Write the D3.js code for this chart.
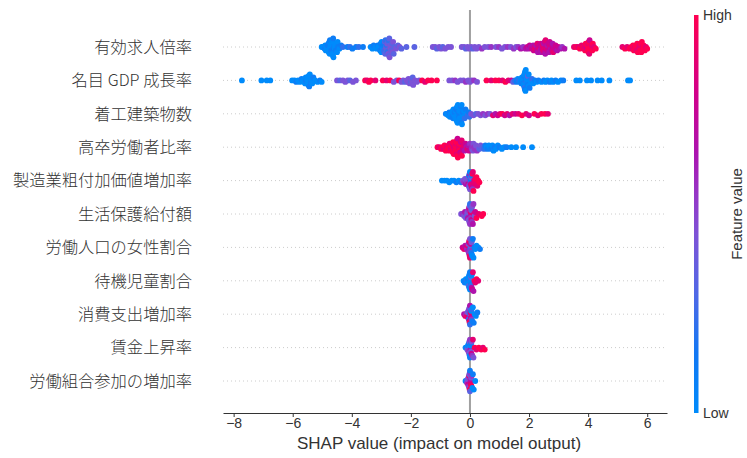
<!DOCTYPE html>
<html>
<head>
<meta charset="utf-8">
<script src="https://cdn.jsdelivr.net/npm/d3@7"></script>
<style>
  body { margin: 0; background: #fff; }
  text { font-family: "Liberation Sans", Arial, sans-serif; }
  .feat { font-family: "Noto Sans CJK JP", sans-serif; font-size: 16.3px; font-weight: 300; fill: #333; }
</style>
</head>
<body>
<script>
// features, top to bottom
var features = ['有効求人倍率', '名目 GDP 成長率', '着工建築物数', '高卒労働者比率',
  '製造業粗付加価値増加率', '生活保護給付額', '労働人口の女性割合', '待機児童割合',
  '消費支出増加率', '賃金上昇率', '労働組合参加の増加率'];

var xTicks = [-8, -6, -4, -2, 0, 2, 4, 6];

// [shap value, feature level 0 (low) .. 9 (high)]
var rowJobRatio = [
  [-5.02,0],[-4.96,0],[-4.92,1],[-4.9,0],[-4.88,0],[-4.85,0],[-4.84,0],[-4.82,1],[-4.8,0],[-4.79,1],
  [-4.78,0],[-4.76,0],[-4.75,0],[-4.74,1],[-4.73,0],[-4.72,0],[-4.71,0],[-4.7,1],[-4.69,0],[-4.68,1],
  [-4.67,0],[-4.66,0],[-4.65,0],[-4.64,0],[-4.63,1],[-4.62,0],[-4.6,1],[-4.58,0],[-4.57,0],[-4.54,1],
  [-4.52,0],[-4.5,0],[-4.48,0],[-4.46,1],[-4.42,0],[-4.36,1],[-4.3,2],
  [-4.15,1],[-4.06,2],[-3.98,1],[-3.86,1],[-3.76,2],[-3.62,1],
  [-3.36,0],[-3.3,0],[-3.26,1],[-3.2,0],[-3.16,0],[-3.12,1],[-3.1,0],[-3.08,0],[-3.05,0],[-3.04,1],
  [-3.02,1],[-3.0,0],[-2.99,0],[-2.97,1],[-2.95,0],[-2.93,1],[-2.92,2],[-2.9,1],[-2.89,2],[-2.88,3],
  [-2.87,3],[-2.86,2],[-2.84,3],[-2.83,4],[-2.82,2],[-2.81,3],[-2.8,4],[-2.79,2],[-2.78,3],[-2.77,4],
  [-2.76,2],[-2.74,3],[-2.73,3],[-2.72,4],[-2.7,3],[-2.69,4],[-2.67,4],[-2.66,3],[-2.64,3],[-2.62,4],
  [-2.6,4],[-2.58,3],[-2.55,3],[-2.5,4],[-2.44,3],[-2.38,4],[-2.32,3],[-2.15,3],[-1.88,3],
  [-1.26,4],[-1.18,4],[-1.12,3],[-1.04,4],[-0.98,4],[-0.92,3],[-0.84,4],[-0.74,4],[-0.64,4],
  [-0.28,4],[-0.2,4],[-0.14,3],[-0.08,4],[-0.02,4],[0.04,4],[0.1,3],[0.16,4],[0.22,4],[0.3,4],
  [0.4,5],[0.5,4],[0.62,4],[0.72,5],
  [0.88,4],[0.98,5],[1.08,4],[1.18,4],[1.28,5],[1.38,4],[1.48,5],[1.56,4],[1.64,5],[1.72,6],[1.8,5],[1.88,6],
  [1.94,7],[1.98,6],[2.02,7],[2.06,6],[2.1,7],[2.14,6],[2.16,7],[2.18,7],[2.2,8],[2.24,6],
  [2.26,7],[2.28,8],[2.3,6],[2.32,7],[2.35,8],[2.36,7],[2.38,6],[2.4,7],[2.42,6],[2.44,6],
  [2.45,7],[2.46,8],[2.48,8],[2.5,6],[2.52,7],[2.53,7],[2.55,6],[2.56,8],[2.58,7],[2.6,8],
  [2.62,6],[2.63,7],[2.65,7],[2.68,6],[2.7,7],[2.72,8],[2.74,6],[2.76,7],[2.78,7],[2.8,6],
  [2.82,8],[2.86,6],[2.88,7],[2.9,7],[2.95,6],[3.0,7],[3.06,6],[3.12,5],[3.2,6],
  [3.52,8],[3.6,9],[3.66,8],[3.72,9],[3.78,8],[3.84,9],[3.86,8],[3.88,8],[3.9,9],[3.92,9],
  [3.94,8],[3.95,7],[3.97,9],[3.98,9],[4.0,8],[4.01,9],[4.02,9],[4.04,8],[4.05,7],[4.08,9],
  [4.1,9],[4.12,8],[4.14,9],[4.16,9],[4.2,8],[4.26,9],
  [5.16,8],[5.25,9],[5.32,8],[5.4,9],[5.46,9],[5.5,8],[5.52,9],[5.55,9],[5.58,8],[5.6,9],
  [5.62,9],[5.64,8],[5.66,9],[5.68,9],[5.7,9],[5.72,8],[5.74,8],[5.76,9],[5.78,9],[5.8,9],
  [5.82,9],[5.84,8],[5.86,9],[5.88,9],[5.92,9],[5.96,8],[6.0,9]
];
var rowGdp = [
  [-7.72,0],[-7.06,0],[-6.88,0],[-6.76,0],
  [-6.02,0],[-5.94,0],[-5.88,1],[-5.82,0],[-5.76,0],[-5.7,1],[-5.66,0],[-5.62,0],[-5.6,0],[-5.58,0],
  [-5.56,0],[-5.55,1],[-5.53,1],[-5.52,0],[-5.5,0],[-5.49,0],[-5.47,0],[-5.46,0],[-5.44,1],[-5.42,0],
  [-5.4,0],[-5.38,1],[-5.36,0],[-5.34,0],[-5.3,1],[-5.24,0],[-5.16,0],[-5.08,1],[-5.02,0],
  [-4.5,4],[-4.4,3],[-4.3,4],[-4.22,4],[-4.14,4],[-4.06,3],[-3.96,4],[-3.86,4],
  [-3.55,9],[-3.48,8],[-3.42,9],[-3.36,9],[-3.2,8],
  [-2.95,9],[-2.82,8],[-2.7,9],[-2.58,4],[-2.48,4],[-2.4,9],[-2.32,4],[-2.26,4],[-2.2,3],[-2.14,4],
  [-2.1,4],[-2.08,4],[-2.04,4],[-2.02,4],[-2.0,3],[-1.98,4],[-1.96,4],[-1.94,3],[-1.92,4],[-1.86,4],
  [-1.8,4],[-1.72,4],[-1.62,9],[-1.52,8],[-1.42,9],[-1.3,9],[-1.12,9],
  [-0.7,4],[-0.6,4],[-0.5,5],[-0.42,4],[-0.32,4],[-0.22,4],[-0.14,5],[-0.06,4],[0.0,4],[0.06,4],[0.14,5],[0.24,4],
  [0.56,9],[0.72,8],[0.86,9],[0.98,9],[1.1,8],[1.2,9],[1.3,8],[1.4,7],
  [1.46,3],[1.52,2],[1.58,1],[1.62,0],[1.66,2],[1.7,0],[1.72,0],[1.74,1],[1.76,0],[1.77,1],
  [1.78,0],[1.79,0],[1.8,1],[1.81,0],[1.82,0],[1.83,1],[1.84,0],[1.84,0],[1.85,2],[1.86,0],
  [1.86,1],[1.87,0],[1.88,0],[1.89,0],[1.9,1],[1.91,2],[1.92,0],[1.93,0],[1.94,0],[1.95,1],
  [1.96,3],[1.98,0],[1.99,0],[2.02,1],[2.04,0],[2.06,0],[2.1,2],[2.14,0],[2.2,1],[2.26,0],[2.32,1],
  [2.42,0],[2.5,1],[2.56,0],[2.62,0],[2.7,1],[2.76,0],[2.82,0],[2.9,1],[2.98,0],[3.08,0],[3.16,1],
  [3.6,0],[3.72,0],[3.96,0],[4.1,0],[4.32,0],[4.46,0],[4.72,0],[5.35,0],[5.42,0]
];
var rowBuilding = [
  [-0.82,1],[-0.78,0],[-0.74,0],[-0.7,1],[-0.68,0],[-0.65,0],[-0.62,0],[-0.61,0],[-0.6,1],[-0.58,0],
  [-0.57,1],[-0.56,0],[-0.54,0],[-0.53,0],[-0.52,1],[-0.5,0],[-0.49,0],[-0.48,0],[-0.47,1],[-0.46,0],
  [-0.45,1],[-0.44,0],[-0.43,0],[-0.42,0],[-0.41,0],[-0.4,0],[-0.39,0],[-0.38,1],[-0.37,1],[-0.36,0],
  [-0.35,0],[-0.34,0],[-0.33,0],[-0.32,0],[-0.31,0],[-0.3,1],[-0.29,1],[-0.28,0],[-0.27,0],[-0.26,0],
  [-0.25,0],[-0.24,1],[-0.22,0],[-0.2,0],[-0.18,2],[-0.15,1],[-0.12,0],[-0.08,2],[-0.04,1],[-0.02,2],
  [0.04,4],[0.12,4],[0.2,3],[0.28,4],[0.36,4],[0.44,5],[0.52,4],[0.6,5],[0.68,4],
  [0.78,8],[0.86,6],[0.94,7],[1.02,8],[1.1,9],[1.18,7],[1.26,8],[1.34,6],[1.44,8],[1.54,7],
  [1.64,8],[1.76,9],[1.9,8],[2.0,7],[2.18,9],[2.3,8],[2.42,9],[2.54,9],[2.64,8]
];
var rowHighSchool = [
  [-1.1,9],[-1.04,8],[-0.98,9],[-0.94,9],[-0.9,8],[-0.86,9],[-0.82,9],[-0.78,8],[-0.75,9],[-0.72,9],
  [-0.7,9],[-0.69,8],[-0.66,9],[-0.65,8],[-0.63,9],[-0.61,9],[-0.6,8],[-0.58,9],[-0.57,9],[-0.55,9],
  [-0.53,7],[-0.52,8],[-0.5,9],[-0.49,9],[-0.48,8],[-0.47,9],[-0.46,9],[-0.45,8],[-0.44,9],[-0.43,9],
  [-0.42,7],[-0.41,9],[-0.4,9],[-0.38,8],[-0.37,8],[-0.36,9],[-0.35,9],[-0.33,7],[-0.31,7],[-0.3,8],
  [-0.28,8],[-0.27,9],[-0.25,9],[-0.24,7],[-0.21,8],[-0.18,6],[-0.15,7],[-0.12,6],[-0.09,8],[-0.06,6],[-0.03,7],
  [0.0,5],[0.04,6],[0.06,5],[0.08,5],[0.1,4],[0.12,4],[0.14,5],[0.16,5],[0.2,4],[0.24,5],[0.28,4],
  [0.32,3],[0.36,4],[0.42,3],[0.48,2],
  [0.52,1],[0.56,0],[0.6,1],[0.64,0],[0.68,0],[0.72,1],[0.76,0],[0.8,0],[0.84,1],[0.88,0],
  [0.94,0],[1.0,1],[1.08,0],[1.16,0],[1.24,1],[1.4,0],[1.56,0],[1.8,0],[2.1,0]
];
var rowManufacturing = [
  [-0.95,0],[-0.86,0],[-0.78,0],[-0.7,0],[-0.62,0],[-0.54,0],[-0.46,1],[-0.38,0],[-0.3,1],
  [-0.24,4],[-0.2,5],[-0.17,4],[-0.14,6],[-0.12,4],[-0.1,5],[-0.08,4],[-0.06,7],[-0.05,4],[-0.04,5],
  [-0.03,1],[-0.02,3],[-0.01,6],[0.0,4],[0.0,0],[0.01,5],[0.02,2],[0.02,1],[0.03,7],[0.04,4],[0.05,8],
  [0.06,1],[0.07,7],[0.08,9],[0.09,5],[0.1,8],[0.12,9],[0.14,7],[0.16,8],[0.18,9],[0.2,8],
  [0.22,9],[0.25,8],[0.28,9],[0.32,9]
];
var rowWelfare = [
  [-0.3,4],[-0.25,5],[-0.2,4],[-0.17,6],[-0.14,4],[-0.12,5],[-0.1,3],[-0.08,4],[-0.07,6],[-0.05,5],
  [-0.04,4],[-0.03,7],[-0.02,4],[-0.01,3],[0.0,5],[0.0,2],[0.01,4],[0.02,6],[0.02,8],[0.03,5],
  [0.04,4],[0.05,7],[0.06,3],[0.07,5],[0.08,4],[0.1,6],[0.12,5],[0.14,8],[0.16,4],[0.18,7],
  [0.22,9],[0.3,8],[0.4,9],[0.45,9]
];
var rowFemale = [
  [-0.25,7],[-0.2,8],[-0.16,6],[-0.13,7],[-0.1,5],[-0.08,8],[-0.06,6],[-0.05,4],[-0.04,5],[-0.03,7],
  [-0.02,5],[-0.02,9],[-0.01,9],[0.0,4],[0.0,8],[0.01,6],[0.01,2],[0.02,3],[0.03,5],[0.03,7],
  [0.04,2],[0.05,4],[0.06,1],[0.07,3],[0.08,0],[0.1,1],[0.12,0],[0.15,1],[0.18,0],[0.22,0],
  [0.28,0],[0.34,1]
];
var rowWaiting = [
  [-0.22,0],[-0.18,1],[-0.14,0],[-0.11,2],[-0.09,0],[-0.07,1],[-0.06,0],[-0.05,0],[-0.04,3],[-0.03,0],
  [-0.02,0],[-0.01,1],[0.0,0],[0.0,1],[0.01,2],[0.02,0],[0.02,0],[0.03,1],[0.04,4],[0.04,2],
  [0.05,0],[0.06,6],[0.07,1],[0.08,7],[0.1,8],[0.12,6],[0.15,9],[0.18,8],[0.22,9],[0.28,8]
];
var rowConsumption = [
  [-0.2,6],[-0.16,8],[-0.13,5],[-0.1,9],[-0.08,4],[-0.06,7],[-0.05,3],[-0.04,2],[-0.03,5],[-0.02,8],
  [-0.01,3],[-0.01,9],[0.0,6],[0.0,2],[0.01,1],[0.02,4],[0.02,8],[0.03,7],[0.04,0],[0.05,5],
  [0.06,2],[0.08,1],[0.1,0],[0.13,1],[0.16,0],[0.2,0],[0.25,1]
];
var rowWage = [
  [-0.15,0],[-0.12,1],[-0.09,4],[-0.07,0],[-0.05,5],[-0.04,1],[-0.03,4],[-0.02,4],[-0.01,0],[0.0,5],
  [0.0,1],[0.01,3],[0.02,6],[0.02,0],[0.03,4],[0.04,1],[0.05,7],[0.06,4],[0.08,5],[0.1,8],
  [0.12,4],[0.16,9],[0.22,8],[0.3,9],[0.38,9],[0.44,8],[0.5,9]
];
var rowUnion = [
  [-0.15,1],[-0.12,0],[-0.1,5],[-0.08,4],[-0.06,7],[-0.05,4],[-0.04,5],[-0.03,8],[-0.02,4],[-0.02,3],
  [-0.01,9],[0.0,5],[0.0,3],[0.0,1],[0.01,4],[0.01,7],[0.02,6],[0.03,8],[0.04,4],[0.05,9],
  [0.06,5],[0.08,0],[0.1,1],[0.13,0],[0.18,0]
];

var rows = [rowJobRatio, rowGdp, rowBuilding, rowHighSchool, rowManufacturing, rowWelfare,
  rowFemale, rowWaiting, rowConsumption, rowWage, rowUnion];

var width = 747, height = 458;

var svg = d3.select('body')
  .append('svg')
  .attr('width', width)
  .attr('height', height);

var x = d3.scaleLinear()
  .domain([-8.36, 6.67])
  .range([223, 667]);

var y = d3.scalePoint()
  .domain(features)
  .range([47, 381]);

var rowStep = y.step();

// shap red-blue colormap
var colorStops = [
  [0, '#008bfb'], [0.15, '#1278f4'], [0.3, '#5068e6'], [0.45, '#7e52d6'],
  [0.55, '#9636c6'], [0.65, '#ab14b0'], [0.8, '#d1008a'], [1, '#ff0051']
];
var color = d3.scaleLinear()
  .domain(colorStops.map(function(d){ return d[0]; }))
  .range(colorStops.map(function(d){ return d[1]; }))
  .interpolate(d3.interpolateRgb);

// dotted row guides
svg.append('g')
  .selectAll('line')
  .data(features)
  .enter()
    .append('line')
      .attr('x1', x.range()[0])
      .attr('x2', x.range()[1])
      .attr('y1', function(d){ return y(d); })
      .attr('y2', function(d){ return y(d); })
      .attr('stroke', '#cccccc')
      .attr('stroke-width', 1)
      .attr('stroke-dasharray', '1,3');

// zero line
svg.append('line')
  .attr('x1', x(0)).attr('x2', x(0))
  .attr('y1', 10).attr('y2', 413)
  .attr('stroke', '#a0a0a0')
  .attr('stroke-width', 2);

// beeswarm layout like shap: bin along x, stack alternately up / down
function swarm(row, name) {
  var binW = 4;
  var pts = row.map(function(d, i){
    return { v: d[0], c: d[1] / 9, px: x(d[0]), i: i };
  });
  pts.forEach(function(p){ p.bin = Math.round(p.px / binW); });
  pts.sort(function(a, b){ return a.bin - b.bin || a.i - b.i; });
  var layer = 0, last = null, maxL = 0;
  pts.forEach(function(p){
    if (p.bin !== last) layer = 0;
    p.off = Math.ceil(layer / 2) * ((layer % 2) * 2 - 1);
    maxL = Math.max(maxL, Math.abs(p.off));
    layer++;
    last = p.bin;
  });
  var k = 0.9 * 0.4 * rowStep / (maxL + 1);
  pts.forEach(function(p){ p.py = y(name) + p.off * k; });
  return pts;
}

rows.forEach(function(row, r){
  var name = features[r];
  svg.append('g')
    .selectAll('circle')
    .data(swarm(row, name))
    .enter()
      .append('circle')
        .attr('cx', function(d){ return d.px; })
        .attr('cy', function(d){ return d.py; })
        .attr('r', 2.9)
        .attr('fill', function(d){ return color(d.c); });
});

// feature names
svg.append('g')
  .selectAll('text')
  .data(features)
  .enter()
    .append('text')
      .attr('class', 'feat')
      .attr('x', 192)
      .attr('y', function(d){ return y(d); })
      .attr('dy', '0.36em')
      .attr('text-anchor', 'end')
      .text(function(d){ return d; });

// x axis
var axis = svg.append('g')
  .attr('transform', 'translate(0,413)')
  .call(d3.axisBottom(x).tickValues(xTicks).tickSize(4).tickSizeOuter(0));
axis.select('.domain').attr('stroke', '#333');
axis.selectAll('.tick line').attr('stroke', '#333');
axis.selectAll('.tick text')
  .attr('fill', '#333')
  .attr('font-size', 14)
  .attr('font-family', '"Liberation Sans", Arial, sans-serif')
  .attr('dy', '0.6em');

svg.append('text')
  .attr('x', 439)
  .attr('y', 449)
  .attr('text-anchor', 'middle')
  .attr('font-size', 17)
  .attr('fill', '#333')
  .text('SHAP value (impact on model output)');

// colour bar
var grad = svg.append('defs')
  .append('linearGradient')
  .attr('id', 'fv')
  .attr('x1', 0).attr('y1', 1).attr('x2', 0).attr('y2', 0);
grad.selectAll('stop')
  .data(colorStops)
  .enter()
    .append('stop')
      .attr('offset', function(d){ return d[0]; })
      .attr('stop-color', function(d){ return d[1]; });

svg.append('rect')
  .attr('x', 694).attr('y', 15)
  .attr('width', 4.5).attr('height', 398)
  .attr('fill', 'url(#fv)');

svg.append('text')
  .attr('x', 703).attr('y', 15).attr('dy', '0.35em')
  .attr('font-size', 14).attr('fill', '#333')
  .text('High');
svg.append('text')
  .attr('x', 703).attr('y', 413).attr('dy', '0.35em')
  .attr('font-size', 14).attr('fill', '#333')
  .text('Low');
svg.append('text')
  .attr('transform', 'translate(737,214) rotate(-90)')
  .attr('text-anchor', 'middle')
  .attr('dy', '0.35em')
  .attr('font-size', 15)
  .attr('fill', '#333')
  .text('Feature value');
</script>
</body>
</html>
